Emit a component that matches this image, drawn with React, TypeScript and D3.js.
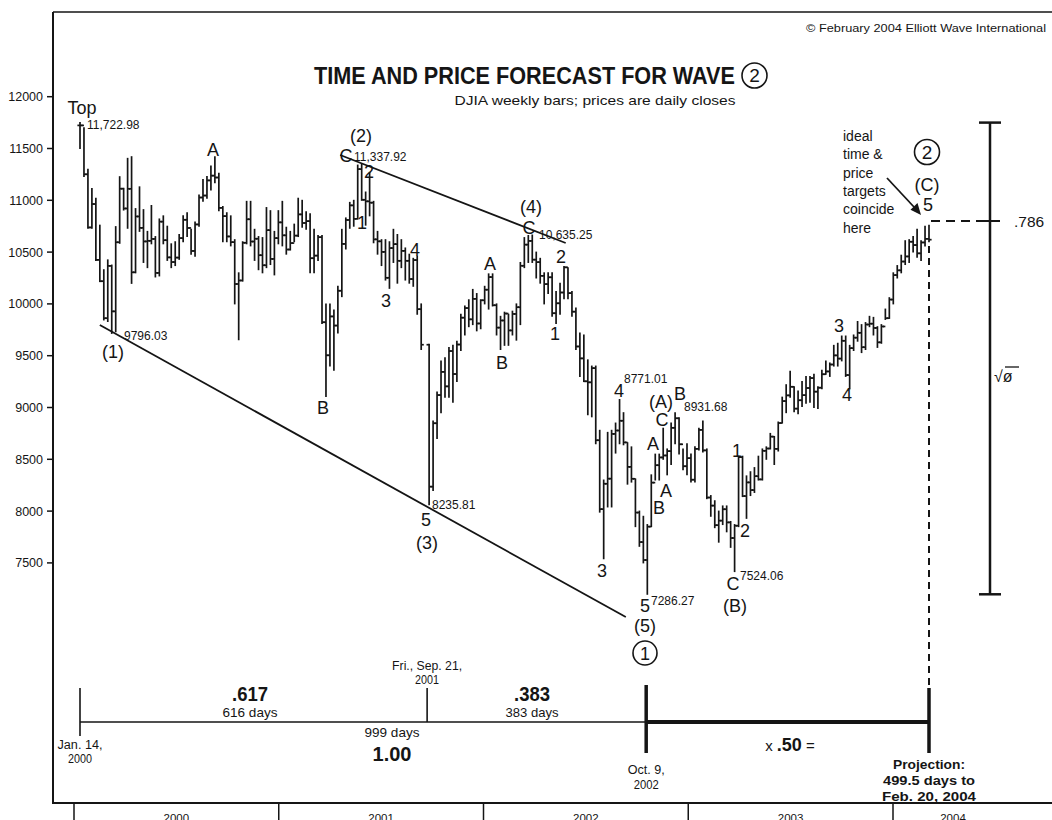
import React from 'react';
import * as d3 from 'd3';

// Weekly DJIA bars (intraday range), week ending Fridays from Jan 14, 2000
const highs: (number | null)[] = [
  11750, 11700, 11300, 11115, 11020, 10760, 10330, 10425, 10375, 10746,
  11228, 11116, 11405, 11421, 10920, 11130, 10910, 10700, 10950, 10650,
  10820, 10850, 10750, 10580, 10600, 10670, 10850, 10880, 10720, 10790,
  11050, 11200, 11230, 11330, 11420, 11260, 10940, 10880, 10850, 10620,
  10300, 10600, 10990, 10990, 10720, 10650, 10640, 10930, 10900, 10700,
  10900, 10990, 10740, 10700, 10770, 11020, 11000, 10890, 10870, 10720,
  10660, 10660, 10000, 10000, 9940, 10170, 10720, 10830, 10980, 11000,
  11340, 11350, 11080, 11270, 10990, 10700, 10620, 10620, 10600, 10720,
  10670, 10620, 10540, 10480, 10440, 10460, 10000, null, 9610, 8870,
  9150, 9450, 9480, 9580, 9600, 9640, 9900, 9980, 10040, 10140,
  10100, 10040, 10170, 10290, 10290, 10000, 9880, 9920, 9900, 9930,
  10000, 10400, 10640, 10660, 10665, 10500, 10440, 10300, 10300, 10300,
  10120, 10200, 10360, 10350, 10120, 9960, 9720, 9700, 9460, 9400,
  9400, 8780, 8300, 8760, 8780, 8850, 9077, 8950, 8660, 8620,
  8310, 8000, 7950, 7870, 8350, 8550, 8550, 8800, 8600, 8850,
  8950, 8900, 8600, 8650, 8550, 8620, 8800, 8870, 8600, 8150,
  8100, 8000, 8050, 8050, 7900, 7870, 8530, 8530, 8340, 8380,
  8420, 8530, 8600, 8620, 8750, 8720, 8860, 9100, 9220, 9350,
  9200, 9160, 9250, 9300, 9300, 9320, 9200, 9360, 9450, 9430,
  9600, 9620, 9690, 9690, 9600, 9700, 9830, 9800, 9820, 9880,
  9870, 9780, 9800, 9950, 10060, 10300, 10370, 10470, 10610, 10620,
  10650, 10720, 10610, 10750, 10760,
];
const lows: (number | null)[] = [
  11500, 11230, 10730, 10730, 10420, 10215, 9845, 9830, 9715, 9731,
  10585, 10906, 10730, 10198, 10300, 10700, 10400, 10350, 10580, 10260,
  10270, 10580, 10420, 10350, 10370, 10430, 10600, 10650, 10480, 10460,
  10750, 10990, 11020, 11100, 11170, 10900, 10600, 10600, 10560, 10000,
  9654, 10220, 10580, 10560, 10420, 10330, 10300, 10350, 10380, 10280,
  10580, 10560, 10480, 10520, 10600, 10650, 10740, 10720, 10300, 10300,
  10420, 9810, 9106, 9400, 9360, 9720, 10070, 10530, 10730, 10750,
  10820, 11000, 10760, 10850, 10590, 10480, 10370, 10230, 10150, 10400,
  10200, 10350, 10230, 10200, 10170, 9900, 9560, null, 8062, 8200,
  8700, 8950, 9100, 9100, 9050, 9250, 9550, 9700, 9780, 9800,
  9740, 9760, 10000, 9950, 9980, 9700, 9560, 9600, 9600, 9700,
  9650, 9800, 10350, 10400, 10400, 10250, 10200, 10000, 10100, 9880,
  9810, 9900, 10050, 10050, 9880, 9560, 9300, 9250, 8930, 8910,
  8650, 7990, 7540, 8040, 8040, 8560, 8650, 8640, 8260, 8280,
  7850, 7660, 7500, 7197, 7850, 8300, 8300, 8500, 8350, 8450,
  8650, 8550, 8400, 8350, 8280, 8280, 8590, 8570, 8120, 7950,
  7840, 7700, 7870, 7800, 7650, 7416, 7850, 8140, 7930, 8150,
  8180, 8300, 8300, 8500, 8600, 8450, 8580, 8850, 8950, 9100,
  8960, 8940, 9010, 9040, 9050, 9000, 8990, 9180, 9320, 9300,
  9400, 9400, 9450, 9300, 9180, 9550, 9640, 9530, 9560, 9780,
  9700, 9580, 9620, 9850, 9860, 10000, 10250, 10300, 10380, 10400,
  10500, 10450, 10420, 10560, 10600,
];
const closes: (number | null)[] = [
  11723, 11251, 10738, 10964, 10425, 10219, 9862, 10367, 9928, 10595,
  11112, 10921, 11111, 10305, 10844, 10734, 10603, 10609, 10627, 10299,
  10794, 10615, 10449, 10404, 10447, 10635, 10812, 10733, 10511, 10767,
  11027, 11046, 11192, 11238, 11220, 10927, 10847, 10651, 10596, 10192,
  10226, 10590, 10817, 10602, 10629, 10470, 10373, 10712, 10434, 10635,
  10787, 10662, 10525, 10587, 10659, 10864, 10781, 10799, 10441, 10466,
  10644, 9823, 9504, 9879, 9791, 10127, 10579, 10810, 10951, 10821,
  11301, 11005, 10990, 10977, 10623, 10604, 10502, 10252, 10539, 10577,
  10416, 10512, 10416, 10240, 10423, 9949, 9606, null, 8236, 8848,
  9120, 9344, 9204, 9545, 9323, 9608, 9867, 9960, 9851, 10049,
  9811, 10035, 10137, 10259, 9987, 9771, 9840, 9907, 9744, 9903,
  9968, 10368, 10572, 10608, 10427, 10403, 10271, 10191, 10257, 9910,
  10006, 10110, 10353, 10104, 9925, 9589, 9474, 9253, 9243, 9380,
  8684, 8019, 8264, 8313, 8745, 8778, 8872, 8663, 8427, 8312,
  7986, 7701, 7528, 7850, 8275, 8443, 8518, 8537, 8579, 8804,
  8896, 8645, 8433, 8511, 8303, 8601, 8784, 8586, 8131, 8053,
  7864, 7908, 8018, 7891, 7740, 7859, 8521, 8145, 8277, 8203,
  8337, 8306, 8582, 8604, 8719, 8601, 8850, 9062, 9117, 9200,
  8989, 9070, 9119, 9188, 9284, 9153, 9191, 9321, 9348, 9415,
  9503, 9472, 9644, 9313, 9573, 9674, 9721, 9582, 9801, 9809,
  9768, 9629, 9782, 9862, 10042, 10278, 10324, 10409, 10458, 10600,
  10568, 10488, 10593, 10628, 10620,
];

const yTicks = [12000, 11500, 11000, 10500, 10000, 9500, 9000, 8500, 8000, 7500];
const years = [2000, 2001, 2002, 2003, 2004];

// Trend channel lines (date, price)
const lowerLine: [string, number][] = [['2000-02-18', 9796], ['2002-09-03', 6977]];
const upperLine: [string, number][] = [['2001-04-17', 11437], ['2002-05-20', 10588]];

// Key dates of the time projection
const keyDates = {
  top: '2000-01-14',
  mid: '2001-09-21',
  low: '2002-10-09',
  proj: '2004-02-20',
};
const rangeHigh = 11750;
const rangeLow = 7197;
const targetLevel = 10800;

// wave labels: text, x, baseline y, size
const waveLabels: [string, number, number, number?][] = [
  ['Top', 82, 114], ['A', 213, 156], ['(1)', 113, 358], ['B', 323, 414],
  ['(2)', 361, 142], ['C', 346, 162], ['2', 369, 178], ['1', 362, 229],
  ['3', 386, 307], ['4', 415, 256], ['5', 426, 526], ['(3)', 427, 549],
  ['A', 490, 270], ['B', 502, 369], ['(4)', 531, 213], ['C', 529, 234],
  ['2', 561, 263], ['1', 555, 340], ['3', 602, 577], ['4', 619, 397],
  ['(A)', 661, 408], ['B', 680, 400], ['C', 662, 426], ['A', 653, 450],
  ['A', 666, 497], ['B', 659, 514], ['5', 645, 612], ['(5)', 645, 632],
  ['1', 737, 457], ['2', 745, 537], ['C', 733, 590], ['(B)', 735, 612],
  ['3', 839, 332], ['4', 847, 401], ['(C)', 927, 191], ['5', 928, 211],
];
const priceLabels: [string, number, number][] = [
  ['11,722.98', 87, 129], ['9796.03', 124, 340], ['11,337.92', 354, 161],
  ['8235.81', 432, 509], ['10,635.25', 539, 239], ['8771.01', 624, 383],
  ['8931.68', 684, 411], ['7286.27', 651, 605], ['7524.06', 740, 580],
];
const noteLines = ['ideal', 'time &', 'price', 'targets', 'coincide', 'here'];

const FONT = '"Liberation Sans", Arial, Helvetica, sans-serif';
const INK = '#151515';

export default function App() {
  React.useEffect(() => {
    document.body.style.margin = '0';
  }, []);

  const parse = d3.timeParse('%Y-%m-%d');
  const start = parse(keyDates.top)!;
  const end = parse(keyDates.proj)!;
  const x = d3.scaleTime().domain([start, end]).range([80, 929]);
  const y = d3.scaleLinear().domain([7500, 12000]).range([562.9, 96.7]);
  const yearX = d3.scaleLinear().domain([2000, 2004]).range([74, 893]);
  const weeks = highs.map((_, i) => d3.timeDay.offset(start, 7 * i));
  const line = d3
    .line<[string, number]>()
    .x((d) => x(parse(d[0])!))
    .y((d) => y(d[1]));

  const xMid = x(parse(keyDates.mid)!);
  const xLow = x(parse(keyDates.low)!);
  const xProj = x(end);
  const xTop = x(start);
  const tY = 722;

  let lastClose = closes[0] as number;
  const bars = weeks.map((d, i) => {
    const h = highs[i], l = lows[i], c = closes[i];
    if (h == null || l == null || c == null) return null;
    const o = lastClose;
    lastClose = c;
    const cx = x(d);
    return (
      <g key={i}>
        <line x1={cx} x2={cx} y1={y(h) - 0.5} y2={y(l) + 0.5} />
        <line x1={cx - 2.6} x2={cx} y1={y(o)} y2={y(o)} />
        <line x1={cx} x2={cx + 2.6} y1={y(c)} y2={y(c)} />
      </g>
    );
  });

  const T = (p: any) => (
    <text
      x={p.x}
      y={p.y}
      fontSize={p.size || 12}
      textAnchor={p.anchor || 'middle'}
      fontWeight={p.bold ? 'bold' : 'normal'}
      textLength={p.len}
      lengthAdjust={p.len ? 'spacingAndGlyphs' : undefined}
    >
      {p.children}
    </text>
  );

  return (
    <svg
      width={1052}
      height={820}
      style={{ position: 'absolute', left: 0, top: 0, background: '#fff' }}
      fontFamily={FONT}
      fill={INK}
    >
      <rect x={0} y={0} width={1052} height={820} fill="#fff" />
      {/* frame */}
      <g stroke={INK} fill="none">
        <line x1={53} x2={1052} y1={12} y2={12} strokeWidth={1.5} />
        <line x1={53} x2={53} y1={12} y2={804} strokeWidth={2} />
        <line x1={52} x2={1052} y1={803} y2={803} strokeWidth={2} />
        {years.map((yr) => (
          <line key={yr} x1={yearX(yr)} x2={yearX(yr)} y1={803} y2={820} strokeWidth={1.5} />
        ))}
        {yTicks.map((t) => (
          <line key={t} x1={47} x2={53} y1={y(t)} y2={y(t)} strokeWidth={1.5} />
        ))}
      </g>
      {years.map((yr, i) => (
        <T key={yr} x={i < years.length - 1 ? (yearX(yr) + yearX(yr + 1)) / 2 : yearX(yr) + 60} y={822} size={11.5}>
          {String(yr)}
        </T>
      ))}
      {yTicks.map((t) => (
        <T key={t} x={43} y={y(t) + 4.5} size={12.5} anchor="end">
          {String(t)}
        </T>
      ))}

      {/* titles */}
      <T x={1046} y={32} size={11.5} anchor="end" len={240}>
        © February 2004 Elliott Wave International
      </T>
      <T x={735} y={84} size={23} anchor="end" bold len={421}>
        TIME AND PRICE FORECAST FOR WAVE
      </T>
      <circle cx={754.5} cy={75.5} r={12.5} fill="none" stroke={INK} strokeWidth={1.6} />
      <T x={754.5} y={82} size={19}>2</T>
      <T x={595} y={105} size={13.5} len={281}>
        DJIA weekly bars; prices are daily closes
      </T>

      {/* bars */}
      <g stroke={INK} strokeWidth={1.7} strokeLinecap="butt">
        {bars}
      </g>

      {/* trend lines */}
      <g stroke={INK} strokeWidth={1.8} fill="none">
        <path d={line(lowerLine) || ''} />
        <path d={line(upperLine) || ''} />
      </g>

      {/* labels */}
      {waveLabels.map(([t, lx, ly, s], i) => (
        <T key={'w' + i} x={lx} y={ly} size={s || 18}>
          {t}
        </T>
      ))}
      {priceLabels.map(([t, lx, ly], i) => (
        <T key={'p' + i} x={lx} y={ly} size={12} anchor="start">
          {t}
        </T>
      ))}
      <circle cx={645} cy={653} r={12} fill="none" stroke={INK} strokeWidth={1.6} />
      <T x={645} y={659.5} size={18}>1</T>
      <circle cx={927} cy={152} r={12.5} fill="none" stroke={INK} strokeWidth={1.6} />
      <T x={927} y={158.5} size={19}>2</T>

      {/* note + arrow */}
      {noteLines.map((t, i) => (
        <T key={'n' + i} x={843} y={141 + i * 18.3} size={14} anchor="start">
          {t}
        </T>
      ))}
      <line x1={887} y1={178} x2={914} y2={207} stroke={INK} strokeWidth={1.8} />
      <polygon points="921,215 910.5,209.8 917.5,203" fill={INK} />

      {/* projection guides */}
      <g stroke={INK} fill="none">
        <line x1={xProj} x2={xProj} y1={y(10560)} y2={688} strokeWidth={2} strokeDasharray="7,5" />
        <line x1={xProj + 2} x2={984} y1={y(targetLevel)} y2={y(targetLevel)} strokeWidth={2} strokeDasharray="9,6" />
        <line x1={990} x2={990} y1={y(rangeHigh)} y2={y(rangeLow)} strokeWidth={2.5} />
        <line x1={979} x2={1001} y1={y(rangeHigh)} y2={y(rangeHigh)} strokeWidth={2.5} />
        <line x1={979} x2={1001} y1={y(rangeLow)} y2={y(rangeLow)} strokeWidth={2.5} />
        <line x1={980} x2={1000} y1={y(targetLevel)} y2={y(targetLevel)} strokeWidth={2} />
        <line x1={1005} x2={1019} y1={367} y2={367} strokeWidth={1.3} />
      </g>
      <T x={1014} y={y(targetLevel) + 6} size={15.5} anchor="start">.786</T>
      <T x={994} y={382} size={16} anchor="start">√ø</T>

      {/* time bar */}
      <g stroke={INK} fill="none">
        <line x1={xTop} x2={xLow} y1={tY} y2={tY} strokeWidth={1.6} />
        <line x1={xLow} x2={xProj} y1={tY} y2={tY} strokeWidth={4} />
        <line x1={xTop} x2={xTop} y1={688} y2={736} strokeWidth={1.6} />
        <line x1={xMid - 2} x2={xMid - 2} y1={688} y2={tY} strokeWidth={1.6} />
        <line x1={xLow} x2={xLow} y1={685} y2={753} strokeWidth={3.5} />
        <line x1={xProj} x2={xProj} y1={688} y2={753} strokeWidth={3.5} />
      </g>
      <T x={250} y={701} size={21} bold len={36}>.617</T>
      <T x={250} y={717} size={13} len={55}>616 days</T>
      <T x={xMid - 2} y={670} size={12} len={70}>Fri., Sep. 21,</T>
      <T x={xMid - 2} y={684} size={12} len={24}>2001</T>
      <T x={532} y={701} size={21} bold len={36}>.383</T>
      <T x={532} y={717} size={13} len={53}>383 days</T>
      <T x={392} y={737} size={13} len={55}>999 days</T>
      <T x={392} y={761} size={21} bold len={39}>1.00</T>
      <T x={xTop} y={749} size={12} len={45}>Jan. 14,</T>
      <T x={xTop} y={763} size={12} len={24}>2000</T>
      <T x={xLow} y={774} size={12} len={37}>Oct. 9,</T>
      <T x={xLow} y={789} size={12} len={25}>2002</T>
      <text x={790} y={751} textAnchor="middle" fontSize={15}>
        x <tspan fontWeight="bold" fontSize={18}>.50</tspan> =
      </text>
      <T x={929} y={768.5} size={13} bold len={72}>Projection:</T>
      <T x={929} y={785} size={13} bold len={92}>499.5 days to</T>
      <T x={929} y={801} size={13} bold len={94}>Feb. 20, 2004</T>
    </svg>
  );
}
